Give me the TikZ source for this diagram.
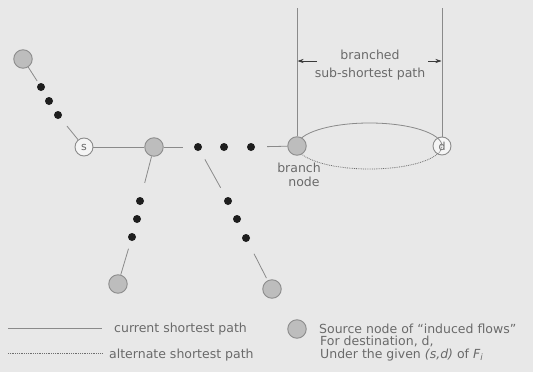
\documentclass[tikz,border=0pt]{standalone}
\usepackage{fontspec}
\setmainfont{DejaVu Sans}
\usetikzlibrary{arrows.meta}
\definecolor{bg}{HTML}{E8E8E8}
\definecolor{ln}{HTML}{8A8A8A}
\definecolor{gfill}{HTML}{BDBDBD}
\definecolor{gdraw}{HTML}{8C8C8C}
\definecolor{txt}{HTML}{6A6A6A}
\definecolor{dotc}{HTML}{1E1E1E}
\definecolor{arr}{HTML}{3A3A3A}
\begin{document}
\begin{tikzpicture}[x=1pt,y=-1pt,
  src/.style={circle,fill=gfill,draw=gdraw,line width=0.9pt,minimum size=18.5pt,inner sep=0pt},
  endnode/.style={circle,fill=white!55!bg,draw=gdraw,line width=0.9pt,minimum size=18pt,inner sep=0pt,text=txt,font=\fontsize{11}{11}\selectfont},
  blk/.style={circle,fill=dotc,minimum size=8pt,inner sep=0pt},
  edge/.style={draw=ln,line width=0.8pt},
  altedge/.style={draw=ln!80!black,line width=0.8pt,densely dotted},
  dim/.style={draw=arr,line width=0.6pt,-{Stealth[length=6pt,width=4pt]}},
  lbl/.style={text=txt,font=\fontsize{12.5}{13.5}\selectfont,inner sep=0pt},
]
\fill[bg] (0,0) rectangle (533,372);
\useasboundingbox (0,0) rectangle (533,372);

% main nodes
\node[src] (g1) at (23,59) {};
\node[blk] (a1) at (41,87) {};
\node[blk] (a2) at (49,101) {};
\node[blk] (a3) at (58,115) {};
\node[endnode] (s) at (84,147) {s};
\node[src] (g2) at (154,147) {};
\node[blk] (h1) at (198,147) {};
\node[blk] (h2) at (224,147) {};
\node[blk] (h3) at (251,147) {};
\node[endnode] (d) at (442,146) {d};
\node[blk] (v1) at (140,201) {};
\node[blk] (v2) at (137,219) {};
\node[blk] (v3) at (132,237) {};
\node[src] (g3) at (118,284) {};
\node[blk] (w1) at (228,201) {};
\node[blk] (w2) at (237,219) {};
\node[blk] (w3) at (246,238) {};
\node[src] (g4) at (272,289) {};

% ellipse (branched sub-shortest path)
\coordinate (ec) at (369.5,146);
\draw[edge] (ec) ++(-72.5,0) arc[start angle=180,end angle=0,x radius=72.5pt,y radius=23pt];
\draw[altedge] (ec) ++(-72.5,0) arc[start angle=180,end angle=360,x radius=72.5pt,y radius=23pt];
\node[src] (br) at (297,146) {};

% connectors
\draw[edge,shorten >=3pt] (g1) -- (a1);
\draw[edge,shorten <=10pt] (a3) -- (s);
\draw[edge] (s) -- (g2);
\draw[edge,shorten >=11pt] (g2) -- (h1);
\draw[edge,shorten <=12pt] (h3) -- (br);
\draw[edge,shorten >=14.5pt] (g2) -- (v1);
\draw[edge,shorten <=8pt] (v3) -- (g3);
\draw[edge,shorten <=10pt,shorten >=11pt] (h1) -- (w1);
\draw[edge,shorten <=13.5pt,shorten >=2.5pt] (w3) -- (g4);

% vertical guide lines and dimension arrows
\coordinate (brtop) at (297,8);
\coordinate (dtop) at (442,8);
\draw[edge] (br) -- (brtop);
\draw[edge] (d) -- (dtop);
\coordinate (la) at (317,61);
\coordinate (lb) at (297.5,61);
\coordinate (ra) at (428,61);
\coordinate (rb) at (441.5,61);
\draw[dim] (la) -- (lb);
\draw[dim] (ra) -- (rb);
\node[lbl,anchor=base] (t1) at (370,59.5) {branched};
\node[lbl,anchor=base] (t2) at (370,77.5) {sub-shortest path};
\node[lbl,anchor=base] (t3) at (299,172) {branch};
\node[lbl,anchor=base] (t4) at (304,186.5) {node};

% legend
\coordinate (l1a) at (8,328);
\coordinate (l1b) at (102,328);
\draw[edge] (l1a) -- (l1b);
\node[lbl,anchor=base west] (lt1) at (114,332.5) {current shortest path};
\coordinate (l2a) at (8,353);
\coordinate (l2b) at (102,353);
\draw[altedge] (l2a) -- (l2b);
\node[lbl,anchor=base west] (lt2) at (109,358) {alternate shortest path};
\node[src] (leg) at (297,329) {};
\node[lbl,anchor=base west] (lt3) at (319,333) {Source node of “induced flows”};
\node[lbl,anchor=base west] (lt4) at (320,345.5) {For destination, d,};
\node[lbl,anchor=base west] (lt5) at (320,358) {Under the given \textit{(s,d)} of \textit{F}\textsubscript{\textit{i}}};
\end{tikzpicture}
\end{document}
